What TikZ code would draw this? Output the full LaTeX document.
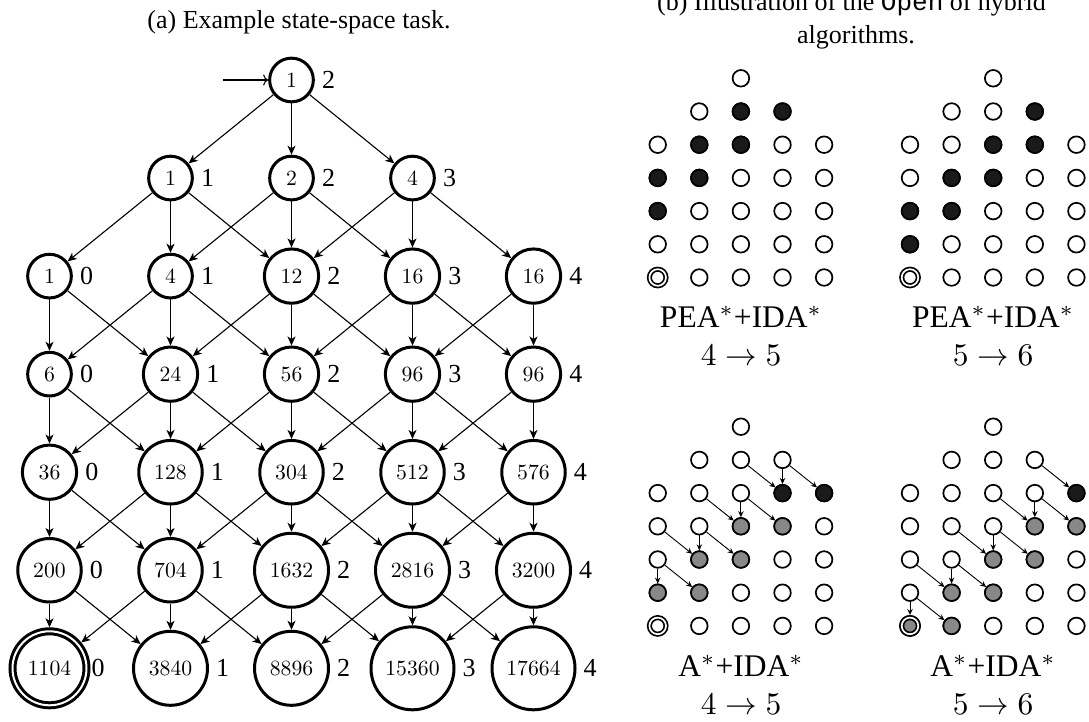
\documentclass[tikz,border=0pt]{standalone}
\usepackage{fontspec}
\usetikzlibrary{arrows.meta}
\newfontfamily\tms{Liberation Serif}
\newfontfamily\cour{Liberation Mono}
\newcommand\nn[1]{\scalebox{2.17}{\normalsize #1}}
\newcommand\lfont{\tms\fontsize{26}{30}\selectfont}
\newcommand\tfont{\tms\fontsize{26}{30}\selectfont}
\newcommand\rfont{\tms\fontsize{31.5}{38}\selectfont}
\newcommand\st{{\scalebox{3.15}{\normalsize$^{*}$}}}
\definecolor{blk}{HTML}{1A1A1A}
\definecolor{gry}{HTML}{888888}
\tikzset{
  gn/.style={circle, draw, line width=3pt, inner sep=0pt, outer sep=1.5pt},
  g1/.style={gn, minimum size=43.7pt},
  g2/.style={gn, minimum size=54.3pt},
  g3/.style={gn, minimum size=63.5pt},
  g4/.style={gn, minimum size=74pt},
  g5/.style={gn, minimum size=83pt},
  goal/.style={double, double distance=2pt, outer sep=4pt},
  lbl/.style={font=\lfont, inner sep=0pt, xshift=7pt},
  glbl/.style={font=\lfont, inner sep=0pt, xshift=1pt},
  edge/.style={line width=1.1pt, -{Stealth[length=9pt,width=8pt,inset=2.5pt]}},
  sm/.style={circle, draw, line width=1.7pt, minimum size=16.6pt, inner sep=0pt, outer sep=0.85pt, fill=white},
  smgoal/.style={sm, double, double distance=1.7pt, outer sep=2.6pt},
  sblack/.style={fill=blk},
  sgray/.style={fill=gry},
  sarrow/.style={line width=0.9pt, -{Stealth[length=6pt,width=5.5pt,inset=2pt]}}
}
\newcommand\mygrid[3]{%
  \node[sm] (#1-0-2) at ({#2+2*41.6},{#3}) {};
  \foreach \c in {1,2,3} \node[sm] (#1-1-\c) at ({#2+\c*41.6},{#3+33.2}) {};
  \foreach \r in {2,...,5} \foreach \c in {0,...,4} \node[sm] (#1-\r-\c) at ({#2+\c*41.6},{#3+\r*33.2}) {};
  \node[smgoal] (#1-6-0) at ({#2},{#3+6*33.2}) {};
  \foreach \c in {1,...,4} \node[sm] (#1-6-\c) at ({#2+\c*41.6},{#3+6*33.2}) {};
}
\newcommand\mathlab[1]{\scalebox{3.15}{$#1$}}
\begin{document}
\begin{tikzpicture}[x=1pt,y=-1pt]
\useasboundingbox (0,0) rectangle (1089,722);
% titles
\node[anchor=base, font=\tfont, inner sep=0pt] (ta) at (299,28.3) {(a) Example state-space task.};
\node[anchor=base, font=\tfont, inner sep=0pt] (tb1) at (851.5,11) {(b) Illustration of the {\cour Open} of hybrid};
\node[anchor=base, font=\tfont, inner sep=0pt] (tb2) at (856,43.3) {algorithms.};
% main graph
\node[g1, label={[lbl]right:2}] (n-0-2) at (291.5,80) {\nn{1}};
\node[g1, label={[lbl]right:1}] (n-1-1) at (170.5,178.05) {\nn{1}};
\node[g1, label={[lbl]right:2}] (n-1-2) at (291.5,178.05) {\nn{2}};
\node[g1, label={[lbl]right:3}] (n-1-3) at (412.5,178.05) {\nn{4}};
\node[g1, label={[lbl]right:0}] (n-2-0) at (49.5,276.1) {\nn{1}};
\node[g1, label={[lbl]right:1}] (n-2-1) at (170.5,276.1) {\nn{4}};
\node[g2, label={[lbl]right:2}] (n-2-2) at (291.5,276.1) {\nn{12}};
\node[g2, label={[lbl]right:3}] (n-2-3) at (412.5,276.1) {\nn{16}};
\node[g2, label={[lbl]right:4}] (n-2-4) at (533.5,276.1) {\nn{16}};
\node[g1, label={[lbl]right:0}] (n-3-0) at (49.5,374.15) {\nn{6}};
\node[g2, label={[lbl]right:1}] (n-3-1) at (170.5,374.15) {\nn{24}};
\node[g2, label={[lbl]right:2}] (n-3-2) at (291.5,374.15) {\nn{56}};
\node[g2, label={[lbl]right:3}] (n-3-3) at (412.5,374.15) {\nn{96}};
\node[g2, label={[lbl]right:4}] (n-3-4) at (533.5,374.15) {\nn{96}};
\node[g2, label={[lbl]right:0}] (n-4-0) at (49.5,472.2) {\nn{36}};
\node[g3, label={[lbl]right:1}] (n-4-1) at (170.5,472.2) {\nn{128}};
\node[g3, label={[lbl]right:2}] (n-4-2) at (291.5,472.2) {\nn{304}};
\node[g3, label={[lbl]right:3}] (n-4-3) at (412.5,472.2) {\nn{512}};
\node[g3, label={[lbl]right:4}] (n-4-4) at (533.5,472.2) {\nn{576}};
\node[g3, label={[lbl]right:0}] (n-5-0) at (49.5,570.25) {\nn{200}};
\node[g3, label={[lbl]right:1}] (n-5-1) at (170.5,570.25) {\nn{704}};
\node[g4, label={[lbl]right:2}] (n-5-2) at (291.5,570.25) {\nn{1632}};
\node[g4, label={[lbl]right:3}] (n-5-3) at (412.5,570.25) {\nn{2816}};
\node[g4, label={[lbl]right:4}] (n-5-4) at (533.5,570.25) {\nn{3200}};
\node[g4, goal, label={[glbl]right:0}] (n-6-0) at (49.5,668.3) {\nn{1104}};
\node[g4, label={[lbl]right:1}] (n-6-1) at (170.5,668.3) {\nn{3840}};
\node[g4, label={[lbl]right:2}] (n-6-2) at (291.5,668.3) {\nn{8896}};
\node[g5, label={[lbl]right:3}] (n-6-3) at (412.5,668.3) {\nn{15360}};
\node[g5, label={[lbl]right:4}] (n-6-4) at (533.5,668.3) {\nn{17664}};
\coordinate (start) at (222.7,80);
\draw[line width=1.1pt, -{To[length=5pt,width=11pt]}] (start) -- (n-0-2);
\foreach \c in {1,2,3} \draw[edge] (n-0-2) -- (n-1-\c);
\foreach \c in {1,2,3} \foreach \d in {-1,0,1} {
  \pgfmathtruncatemacro\t{\c+\d}
  \draw[edge] (n-1-\c) -- (n-2-\t);
}
\foreach \r in {2,...,5} \foreach \c in {0,...,4} \foreach \d in {-1,0,1} {
  \pgfmathtruncatemacro\t{\c+\d}
  \pgfmathtruncatemacro\nr{\r+1}
  \ifnum\t>-1 \ifnum\t<5 \draw[edge] (n-\r-\c) -- (n-\nr-\t); \fi\fi
}
% small grids
\mygrid{a1}{657.7}{78.3}
\mygrid{a2}{910}{78.3}
\mygrid{b1}{657.7}{426.7}
\mygrid{b2}{910}{426.7}
% PEA 4->5
\foreach \p in {1-2,1-3,2-1,2-2,3-0,3-1,4-0} \node[sm,sblack] (a1-\p) at (a1-\p) {};
% PEA 5->6
\foreach \p in {1-3,2-2,2-3,3-1,3-2,4-0,4-1,5-0} \node[sm,sblack] (a2-\p) at (a2-\p) {};
% A* 4->5
\foreach \p in {2-3,2-4} \node[sm,sblack] (b1-\p) at (b1-\p) {};
\foreach \p in {3-2,3-3,4-1,4-2,5-0,5-1} \node[sm,sgray] (b1-\p) at (b1-\p) {};
% A* 5->6
\foreach \p in {2-4} \node[sm,sblack] (b2-\p) at (b2-\p) {};
\foreach \p in {3-3,3-4,4-2,4-3,5-1,5-2,6-1} \node[sm,sgray] (b2-\p) at (b2-\p) {};
\node[smgoal,sgray] (b2-6-0) at (b2-6-0) {};
% arrows
\foreach \s/\e in {1-2/2-3,1-3/2-3,1-3/2-4,2-1/3-2,2-2/3-2,2-2/3-3,3-0/4-1,3-1/4-1,3-1/4-2,4-0/5-0,4-0/5-1}
  \draw[sarrow] (b1-\s) -- (b1-\e);
\foreach \s/\e in {1-3/2-4,2-2/3-3,2-3/3-3,2-3/3-4,3-1/4-2,3-2/4-2,3-2/4-3,4-0/5-1,4-1/5-1,4-1/5-2,5-0/6-0,5-0/6-1}
  \draw[sarrow] (b2-\s) -- (b2-\e);
% labels
\node[anchor=base, font=\rfont, inner sep=0pt] (la1) at (741.1,327.7) {PEA\st+IDA\st};
\node[anchor=base, inner sep=0pt] (lb1) at (741.1,365.7) {\mathlab{4\rightarrow5}};
\node[anchor=base, font=\rfont, inner sep=0pt] (la2) at (993.2,327.7) {PEA\st+IDA\st};
\node[anchor=base, inner sep=0pt] (lb2) at (993.2,365.7) {\mathlab{5\rightarrow6}};
\node[anchor=base, font=\rfont, inner sep=0pt] (la3) at (741.1,676.7) {A\st+IDA\st};
\node[anchor=base, inner sep=0pt] (lb3) at (741.1,714.7) {\mathlab{4\rightarrow5}};
\node[anchor=base, font=\rfont, inner sep=0pt] (la4) at (993.2,676.7) {A\st+IDA\st};
\node[anchor=base, inner sep=0pt] (lb4) at (993.2,714.7) {\mathlab{5\rightarrow6}};
\end{tikzpicture}
\end{document}
